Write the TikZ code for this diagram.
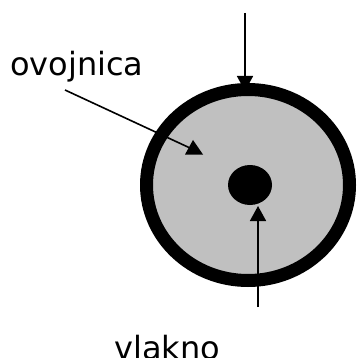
\documentclass[tikz,border=0pt]{standalone}
\usepackage{fontspec}
\setmainfont{DejaVu Sans}
\usetikzlibrary{shapes.geometric,arrows.meta}
\definecolor{sheathgray}{HTML}{C0C0C0}
\begin{document}
\begin{tikzpicture}[x=1pt,y=-1pt,
  lbl/.style={font=\fontsize{32}{32}\selectfont, inner sep=0pt, anchor=base west},
  conn/.style={line width=1.6pt, -{Triangle[length=15pt,width=16pt]}},
  plainline/.style={line width=1.6pt}]
\useasboundingbox (0,0) rectangle (356,358);
\node[ellipse, draw=black, fill=sheathgray, line width=13pt, minimum width=203pt, minimum height=191pt, inner sep=0pt] (sheath) at (248,185) {};
\node[ellipse, fill=black, minimum width=44pt, minimum height=40pt, inner sep=0pt] (core) at (250,185) {};
\node[lbl] (ovlabel) at (10,76) {ovojnica};
\node[lbl] (vllabel) at (114,359) {vlakno};
\coordinate (topStart) at (245,13);
\coordinate (topEnd) at (245,91);
\draw[conn] (topStart) -- (topEnd);
\coordinate (ovStart) at (65,90);
\coordinate (ovEnd) at (190,148);
\draw[plainline] (ovStart) -- (ovEnd);
\fill (193,140) -- (203,154.5) -- (185,154.5) -- cycle;
\coordinate (vlStart) at (258,307);
\coordinate (vlEnd) at (258,206);
\draw[conn] (vlStart) -- (vlEnd);
\end{tikzpicture}
\end{document}
